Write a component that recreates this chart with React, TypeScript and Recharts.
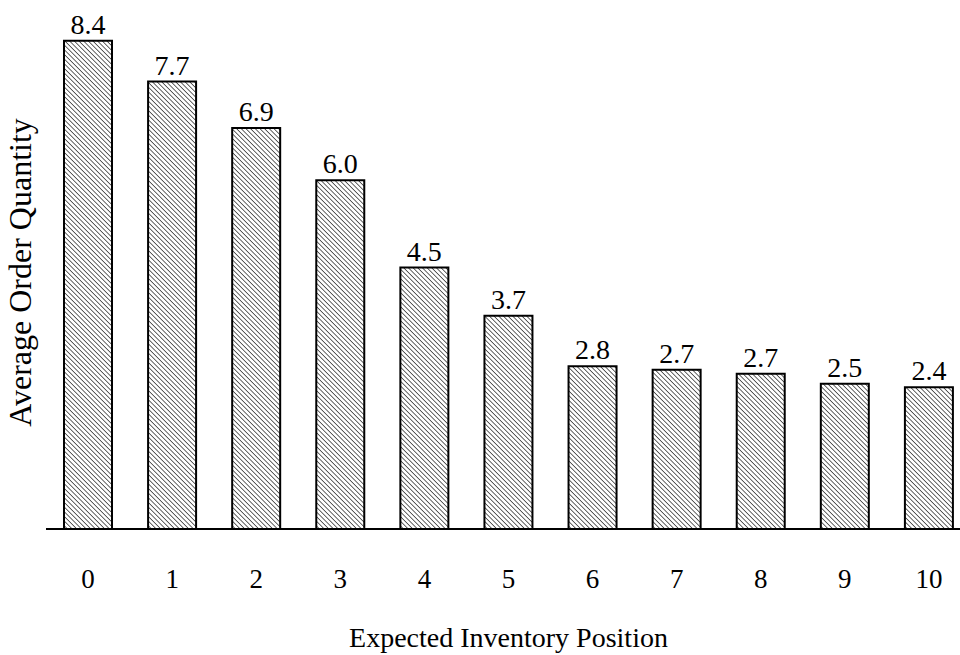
import React from "react";
import { BarChart, Bar, XAxis, YAxis, LabelList } from "recharts";

const categories = ["0", "1", "2", "3", "4", "5", "6", "7", "8", "9", "10"];
const orderQuantity = [8.4, 7.7, 6.9, 6.0, 4.5, 3.67, 2.8, 2.74, 2.67, 2.5, 2.44];

const data = categories.map((c, i) => ({ position: c, qty: orderQuantity[i] }));

const FONT = "'Liberation Serif', 'Times New Roman', serif";

export default function App() {
  return (
    <div style={{ position: "absolute", left: 0, top: 0, width: 960, height: 655, overflow: "hidden", background: "#fff" }}>
      <BarChart
        width={971}
        height={655}
        data={data}
        margin={{ top: 6, right: 0, bottom: 0, left: 0 }}
        barSize={48}
      >
        <defs>
          <pattern id="hatch" patternUnits="userSpaceOnUse" width="3.3" height="3.3" patternTransform="rotate(-45)">
            <rect width="3.3" height="3.3" fill="#ffffff" />
            <line x1="0" y1="0" x2="0" y2="3.3" stroke="#000" strokeWidth="1.2" />
          </pattern>
        </defs>
        <XAxis
          dataKey="position"
          height={126}
          tickLine={false}
          tickSize={0}
          tickMargin={40}
          axisLine={{ stroke: "#000", strokeWidth: 2 }}
          tick={{ fill: "#000", fontSize: 27, fontFamily: FONT }}
          interval={0}
          label={{
            value: "Expected Inventory Position",
            position: "insideBottom",
            offset: 8,
            fill: "#000",
            fontSize: 28,
            fontFamily: FONT,
          }}
        />
        <YAxis
          domain={[0, 9]}
          width={46}
          axisLine={false}
          tickLine={false}
          tick={false}
          label={{
            value: "Average Order Quantity",
            angle: -90,
            position: "center",
            dx: -3,
            dy: 5,
            fill: "#000",
            fontSize: 32,
            fontFamily: FONT,
          }}
        />
        <Bar dataKey="qty" fill="url(#hatch)" stroke="#000" strokeWidth={2} isAnimationActive={false}>
          <LabelList
            dataKey="qty"
            position="top"
            offset={7}
            formatter={(v: number) => v.toFixed(1)}
            fill="#000"
            fontSize={28}
            fontFamily={FONT}
          />
        </Bar>
      </BarChart>
    </div>
  );
}
